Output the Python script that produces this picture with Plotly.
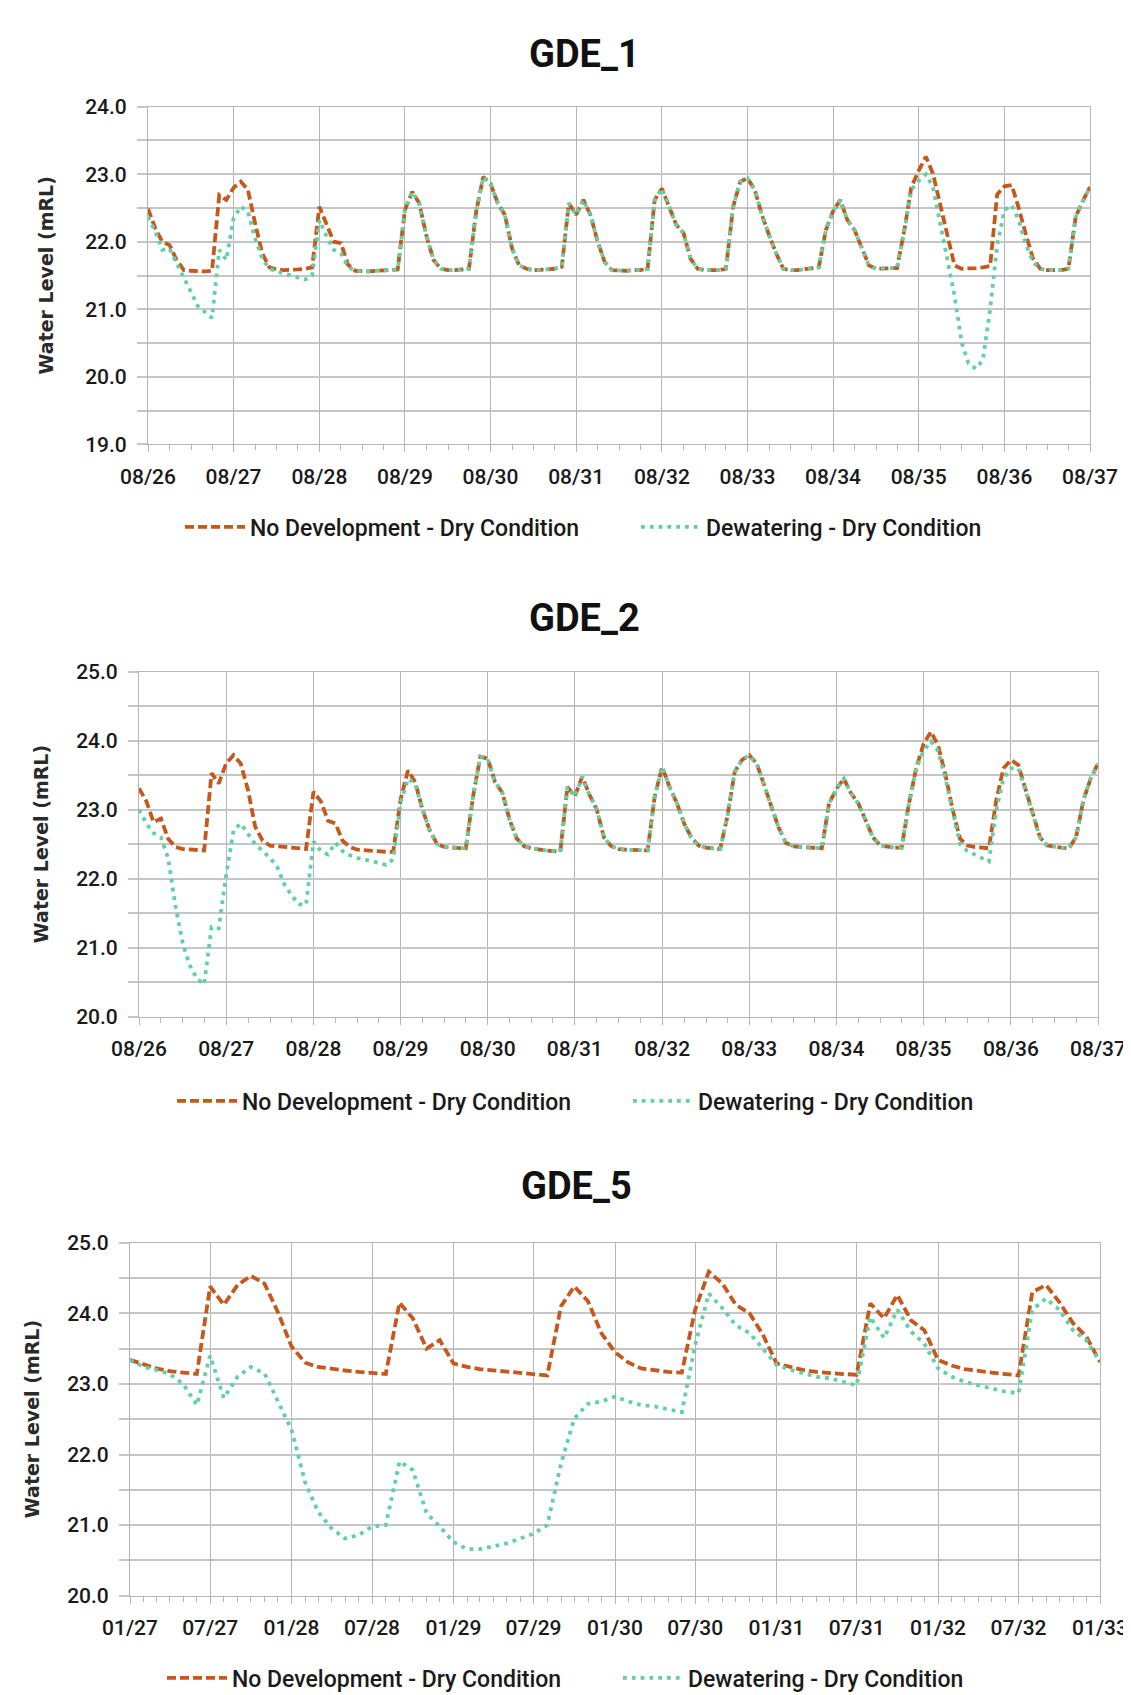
import plotly.graph_objects as go
import pandas as pd

# ---------------- DATA ----------------
# GDE_1 : monthly values from Aug 2026 to Aug 2037
gde1_start = "2026-08-01"
gde1_no_dev = [
    22.49, 22.20, 22.00, 21.95, 21.73, 21.58, 21.57, 21.56, 21.56, 21.57, 22.69, 22.62,
    22.80, 22.89, 22.77, 22.27, 21.83, 21.62, 21.59, 21.58, 21.58, 21.59, 21.60, 21.62,
    22.52, 22.25, 22.00, 21.98, 21.66, 21.57, 21.56, 21.56, 21.57, 21.57, 21.58, 21.59,
    22.47, 22.74, 22.57, 22.08, 21.73, 21.60, 21.58, 21.58, 21.59, 21.60, 22.45, 22.96,
    22.86, 22.57, 22.40, 21.90, 21.65, 21.60, 21.58, 21.58, 21.59, 21.60, 21.63, 22.57,
    22.40, 22.62, 22.40, 22.00, 21.70, 21.58, 21.57, 21.57, 21.58, 21.58, 21.60, 22.62,
    22.79, 22.50, 22.25, 22.13, 21.75, 21.60, 21.58, 21.58, 21.58, 21.60, 22.52, 22.89,
    22.94, 22.77, 22.40, 22.10, 21.83, 21.60, 21.58, 21.58, 21.59, 21.60, 21.62, 22.17,
    22.45, 22.62, 22.32, 22.17, 21.93, 21.65, 21.60, 21.60, 21.60, 21.61, 22.17, 22.81,
    23.05, 23.26, 23.01, 22.55, 22.05, 21.65, 21.60, 21.60, 21.61, 21.62, 21.64, 22.70,
    22.82, 22.84, 22.50, 22.10, 21.75, 21.60, 21.58, 21.58, 21.58, 21.60, 22.37, 22.60,
    22.81,
]
gde1_dewater = [
    22.37, 22.15, 21.88, 21.90, 21.68, 21.45, 21.25, 21.05, 20.95, 20.87, 21.88, 21.73,
    22.35, 22.52, 22.45, 22.05, 21.75, 21.60, 21.56, 21.53, 21.50, 21.47, 21.44, 21.50,
    22.32, 22.08, 21.88, 21.83, 21.63, 21.57, 21.56, 21.56, 21.57, 21.57, 21.58, 21.59,
    22.47, 22.74, 22.57, 22.08, 21.73, 21.60, 21.58, 21.58, 21.59, 21.60, 22.45, 22.96,
    22.86, 22.57, 22.40, 21.90, 21.65, 21.60, 21.58, 21.58, 21.59, 21.60, 21.63, 22.57,
    22.40, 22.62, 22.40, 22.00, 21.70, 21.58, 21.57, 21.57, 21.58, 21.58, 21.60, 22.62,
    22.79, 22.50, 22.25, 22.13, 21.75, 21.60, 21.58, 21.58, 21.58, 21.60, 22.52, 22.89,
    22.94, 22.77, 22.40, 22.10, 21.83, 21.60, 21.58, 21.58, 21.59, 21.60, 21.62, 22.17,
    22.45, 22.62, 22.32, 22.17, 21.93, 21.65, 21.60, 21.60, 21.60, 21.61, 22.17, 22.77,
    22.90, 23.00, 22.81, 22.30, 21.75, 21.20, 20.50, 20.20, 20.12, 20.25, 21.00, 21.95,
    22.47, 22.54, 22.32, 21.95, 21.70, 21.60, 21.58, 21.58, 21.58, 21.60, 22.37, 22.60,
    22.81,
]

# GDE_2 : monthly values from Aug 2026 to Aug 2037
gde2_start = "2026-08-01"
gde2_no_dev = [
    23.31, 23.12, 22.82, 22.87, 22.58, 22.46, 22.43, 22.42, 22.41, 22.41, 23.53, 23.38,
    23.67, 23.79, 23.67, 23.28, 22.75, 22.55, 22.48, 22.47, 22.46, 22.45, 22.44, 22.43,
    23.26, 23.12, 22.84, 22.80, 22.55, 22.46, 22.42, 22.41, 22.40, 22.39, 22.39, 22.39,
    23.15, 23.57, 23.40, 23.00, 22.70, 22.50, 22.46, 22.45, 22.44, 22.44, 23.20, 23.77,
    23.74, 23.40, 23.25, 22.85, 22.58, 22.47, 22.44, 22.42, 22.41, 22.40, 22.39, 23.33,
    23.19, 23.48, 23.22, 23.00, 22.60, 22.47, 22.43, 22.42, 22.42, 22.41, 22.41, 23.20,
    23.62, 23.33, 23.10, 22.80, 22.60, 22.48, 22.45, 22.44, 22.43, 22.90, 23.55, 23.72,
    23.79, 23.67, 23.38, 23.06, 22.75, 22.52, 22.47, 22.46, 22.45, 22.44, 22.44, 23.09,
    23.30, 23.45, 23.24, 23.09, 22.85, 22.60, 22.48, 22.46, 22.45, 22.45, 23.09, 23.60,
    23.95, 24.13, 23.93, 23.50, 23.00, 22.58, 22.48, 22.46, 22.45, 22.44, 23.14, 23.60,
    23.72, 23.65, 23.30, 22.95, 22.60, 22.48, 22.46, 22.45, 22.44, 22.60, 23.14, 23.45,
    23.67,
]
gde2_dewater = [
    23.00, 22.80, 22.66, 22.60, 22.30, 21.60, 21.05, 20.75, 20.55, 20.47, 21.30, 21.28,
    22.05, 22.70, 22.80, 22.65, 22.50, 22.40, 22.30, 22.18, 21.92, 21.76, 21.63, 21.62,
    22.54, 22.40, 22.35, 22.52, 22.40, 22.34, 22.30, 22.28, 22.26, 22.23, 22.20, 22.28,
    23.10, 23.45, 23.38, 23.00, 22.70, 22.50, 22.46, 22.45, 22.44, 22.44, 23.20, 23.77,
    23.74, 23.40, 23.25, 22.85, 22.58, 22.47, 22.44, 22.42, 22.41, 22.40, 22.39, 23.33,
    23.19, 23.48, 23.22, 23.00, 22.60, 22.47, 22.43, 22.42, 22.42, 22.41, 22.41, 23.20,
    23.62, 23.33, 23.10, 22.80, 22.60, 22.48, 22.45, 22.44, 22.43, 22.90, 23.55, 23.72,
    23.79, 23.67, 23.38, 23.06, 22.75, 22.52, 22.47, 22.46, 22.45, 22.44, 22.44, 23.09,
    23.30, 23.45, 23.24, 23.09, 22.85, 22.60, 22.48, 22.46, 22.45, 22.45, 23.09, 23.60,
    23.85, 23.99, 23.85, 23.45, 22.95, 22.50, 22.40, 22.35, 22.30, 22.25, 23.00, 23.45,
    23.60, 23.60, 23.28, 22.95, 22.60, 22.48, 22.46, 22.45, 22.44, 22.60, 23.14, 23.45,
    23.67,
]

# GDE_5 : monthly values from Jan 2027 to Jan 2033
gde5_start = "2027-01-01"
gde5_no_dev = [
    23.34, 23.27, 23.22, 23.18, 23.16, 23.14, 24.38, 24.12, 24.40, 24.53, 24.42, 24.02,
    23.53, 23.30, 23.24, 23.21, 23.19, 23.17, 23.15, 23.14, 24.15, 23.93, 23.50, 23.62,
    23.29, 23.24, 23.21, 23.19, 23.17, 23.15, 23.13, 23.12, 24.10, 24.38, 24.17, 23.72,
    23.45, 23.30, 23.22, 23.19, 23.17, 23.16, 24.05, 24.59, 24.42, 24.12, 24.00, 23.70,
    23.29, 23.24, 23.20, 23.17, 23.15, 23.14, 23.13, 24.14, 23.93, 24.26, 23.90, 23.76,
    23.34, 23.26, 23.21, 23.18, 23.16, 23.14, 23.12, 24.30, 24.40, 24.16, 23.86, 23.67,
    23.31,
]
gde5_dewater = [
    23.34, 23.24, 23.20, 23.14, 23.00, 22.70, 23.40, 22.80, 23.10, 23.24, 23.15, 22.75,
    22.35, 21.60, 21.19, 20.95, 20.81, 20.86, 20.98, 21.00, 21.90, 21.78, 21.17, 20.98,
    20.76, 20.66, 20.66, 20.70, 20.74, 20.81, 20.88, 21.00, 21.87, 22.51, 22.72, 22.75,
    22.82, 22.75, 22.70, 22.68, 22.64, 22.60, 23.55, 24.28, 24.07, 23.83, 23.72, 23.50,
    23.27, 23.20, 23.15, 23.10, 23.08, 23.03, 22.98, 23.95, 23.65, 24.05, 23.74, 23.57,
    23.22, 23.10, 23.03, 22.98, 22.94, 22.89, 22.87, 24.05, 24.21, 24.05, 23.76, 23.62,
    23.31,
]

titles = ["GDE_1", "GDE_2", "GDE_5"]
series_names = ["No Development - Dry Condition", "Dewatering - Dry Condition"]
y_title = "Water Level (mRL)"

# ---------------- STYLE / LAYOUT ----------------
PAGE_W, PAGE_H = 1131, 1695
OFF = 8  # default page body margin
W, H = PAGE_W - OFF, PAGE_H - OFF
FONT = "Roboto, DejaVu Sans, sans-serif"
ORANGE = "#C4581D"
GREEN = "#62D0A4"
HGRID = "#c6c6c6"
VGRID = "#b5b5b5"
TXT = "#1a1a1a"


def fx(px):
    return (px - OFF) / W


def fy(py):
    return 1 - (py - OFF) / H


charts = [
    dict(start=gde1_start, nd=gde1_no_dev, dw=gde1_dewater, title=titles[0],
         box=(148, 1090, 106.7, 444.3), yr=(19, 24), xr=("2026-08-01", "2037-08-01"),
         dt="M12", mdt="M3", title_pos=(584, 54), leg_pos=(180, 527), ytitle_x=45),
    dict(start=gde2_start, nd=gde2_no_dev, dw=gde2_dewater, title=titles[1],
         box=(139, 1098, 671.7, 1016.7), yr=(20, 25), xr=("2026-08-01", "2037-08-01"),
         dt="M12", mdt="M3", title_pos=(584, 618), leg_pos=(172, 1101), ytitle_x=41),
    dict(start=gde5_start, nd=gde5_no_dev, dw=gde5_dewater, title=titles[2],
         box=(130, 1100, 1242.7, 1595.7), yr=(20, 25), xr=("2027-01-01", "2033-01-01"),
         dt="M6", mdt="M1", title_pos=(576, 1186), leg_pos=(162, 1678), ytitle_x=32),
]

fig = go.Figure()
layout = dict(width=W, height=H, margin=dict(l=0, r=0, t=0, b=0, autoexpand=False),
              paper_bgcolor="white", plot_bgcolor="white", showlegend=True,
              font=dict(family=FONT, color=TXT))
annotations = []

for i, c in enumerate(charts):
    k = "" if i == 0 else str(i + 1)
    xa, ya = "x" + k, "y" + k
    leg = "legend" + k
    dates = pd.date_range(c["start"], periods=len(c["nd"]), freq="MS")
    fig.add_trace(go.Scatter(x=dates, y=c["nd"], mode="lines", name=series_names[0],
                             line=dict(color=ORANGE, width=3.8, dash="9px,4px"),
                             xaxis=xa, yaxis=ya, legend=leg))
    fig.add_trace(go.Scatter(x=dates, y=c["dw"], mode="lines", name=series_names[1],
                             line=dict(color=GREEN, width=3.8, dash="3.8px,5px"),
                             xaxis=xa, yaxis=ya, legend=leg))
    x0, x1, y0, y1 = c["box"]
    layout["xaxis" + k] = dict(
        domain=[fx(x0), fx(x1)], anchor=ya, type="date", range=list(c["xr"]),
        tick0=c["xr"][0], dtick=c["dt"], tickformat="%m/%y", automargin=False,
        showgrid=True, gridcolor=VGRID, gridwidth=1,
        ticks="outside", ticklen=7, tickcolor=VGRID, tickwidth=1,
        showline=True, linecolor=VGRID, linewidth=1, mirror=True,
        tickfont=dict(family=FONT, size=21, color=TXT, weight=500), ticklabelstandoff=6,
        minor=dict(dtick=c["mdt"], tick0=c["xr"][0], ticks="outside", ticklen=5,
                   tickcolor=VGRID, showgrid=False),
        zeroline=False, fixedrange=True,
    )
    layout["yaxis" + k] = dict(
        domain=[fy(y1), fy(y0)], anchor=xa, range=list(c["yr"]),
        dtick=1, tick0=c["yr"][0], tickformat=".1f", automargin=False,
        showgrid=True, gridcolor=HGRID, gridwidth=1.5,
        ticks="outside", ticklen=10, tickcolor=HGRID, tickwidth=1.5,
        showline=True, linecolor=VGRID, linewidth=1, mirror=True,
        tickfont=dict(family=FONT, size=21, color=TXT, weight=500), ticklabelstandoff=6,
        minor=dict(dtick=0.5, tick0=c["yr"][0], ticks="outside", ticklen=10,
                   tickcolor=HGRID, tickwidth=1.5, showgrid=True, gridcolor=HGRID, gridwidth=1.5),
        zeroline=False, fixedrange=True,
    )
    lx, ly = c["leg_pos"]
    layout[leg] = dict(orientation="h", x=fx(lx), y=fy(ly), xanchor="left", yanchor="middle",
                       font=dict(family=FONT, size=23, color=TXT, weight=500), itemwidth=60,
                       entrywidth=381, entrywidthmode="pixels",
                       bgcolor="rgba(0,0,0,0)")
    tx, ty = c["title_pos"]
    annotations.append(dict(text=c["title"], x=fx(tx), y=fy(ty), xref="paper", yref="paper",
                            xanchor="center", yanchor="middle", showarrow=False,
                            font=dict(family=FONT, size=38, color="#111111", weight=700)))
    annotations.append(dict(text=y_title, x=fx(c["ytitle_x"]), y=fy((y0 + y1) / 2),
                            xref="paper", yref="paper", xanchor="center", yanchor="middle",
                            textangle=-90, showarrow=False,
                            font=dict(family="DejaVu Sans, sans-serif", size=19, color="#2a2a2a",
                                      weight=700)))

layout["annotations"] = annotations
fig.update_layout(**layout)
fig.write_html("out.html")
